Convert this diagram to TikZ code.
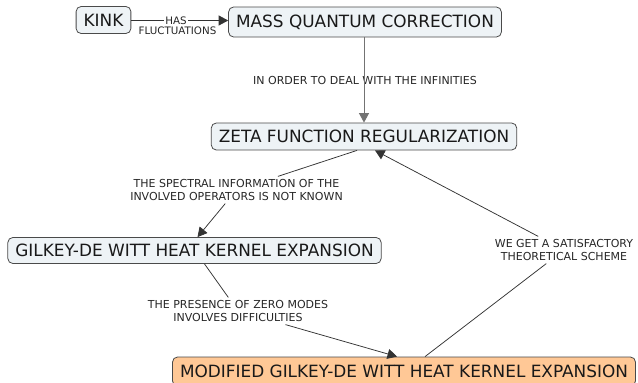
\documentclass[tikz,border=0pt]{standalone}
\usepackage{fontspec}
\setmainfont{DejaVu Sans}
\usetikzlibrary{arrows.meta}
\definecolor{boxfill}{HTML}{EEF3F6}
\definecolor{boxline}{HTML}{4A4A4A}
\definecolor{modfill}{HTML}{FFC896}
\begin{document}
\begin{tikzpicture}[x=1pt,y=-1pt,
  concept/.style={draw=boxline, line width=0.8pt, rounded corners=5pt, fill=boxfill,
    font=\fontsize{16.9}{20}\selectfont, inner xsep=7.5pt, inner ysep=0pt,
    minimum height=27pt, text=black!90},
  lbl/.style={font=\fontsize{11}{13.5}\selectfont, align=center, inner sep=2.5pt, text=black!85},
  small/.style={font=\fontsize{10.3}{10}\selectfont, inner sep=1.5pt, text=black!85},
  link/.style={line width=0.75pt, draw=black!80},
  arr/.style={link, -{Triangle[length=9.5pt,width=10pt]}}]
\useasboundingbox (0,0) rectangle (638,383);

% concepts
\node[concept] (kink) at (103.5,20) {KINK};
\node[concept, minimum height=30pt] (mass) at (365,22) {MASS QUANTUM CORRECTION};
\node[concept] (zeta) at (364,136.5) {ZETA FUNCTION REGULARIZATION};
\node[concept, minimum height=26pt] (gilkey) at (194.5,250.5) {GILKEY-DE WITT HEAT KERNEL EXPANSION};
\node[concept, fill=modfill, minimum height=29pt] (mod) at (404,371.5) {MODIFIED GILKEY-DE WITT HEAT KERNEL EXPANSION};

% labels
\node[small, fill=white] (has) at (176,20.5) {HAS};
\node[small] (fluct) at (177.5,30.5) {FLUCTUATIONS};
\node[lbl] (infin) at (365,80) {IN ORDER TO DEAL WITH THE INFINITIES};
\node[lbl] (spec) at (236.5,190) {THE SPECTRAL INFORMATION OF THE\\INVOLVED OPERATORS IS NOT KNOWN};
\node[lbl] (zero) at (238,311) {THE PRESENCE OF ZERO MODES\\INVOLVES DIFFICULTIES};
\node[lbl] (sat) at (564,250) {WE GET A SATISFACTORY\\THEORETICAL SCHEME};

% connectors
\draw[link] (kink.east |- has.west) -- (has.west);
\draw[arr] (has.east) -- (has.east -| mass.west);
\draw[arr, draw=black!55, line width=1pt] (mass.south -| zeta.north) -- (zeta.north);
\draw[link] ([xshift=-7pt]zeta.south) -- (spec);
\draw[arr] (spec) -- ([xshift=3pt]gilkey.north);
\draw[link] ([xshift=10pt]gilkey.south) -- (zero);
\draw[arr] (zero) -- ([xshift=-7pt]mod.north);
\draw[link] ([xshift=21pt]mod.north) -- (sat);
\draw[arr] (sat) -- ([xshift=11pt]zeta.south);
\end{tikzpicture}
\end{document}
